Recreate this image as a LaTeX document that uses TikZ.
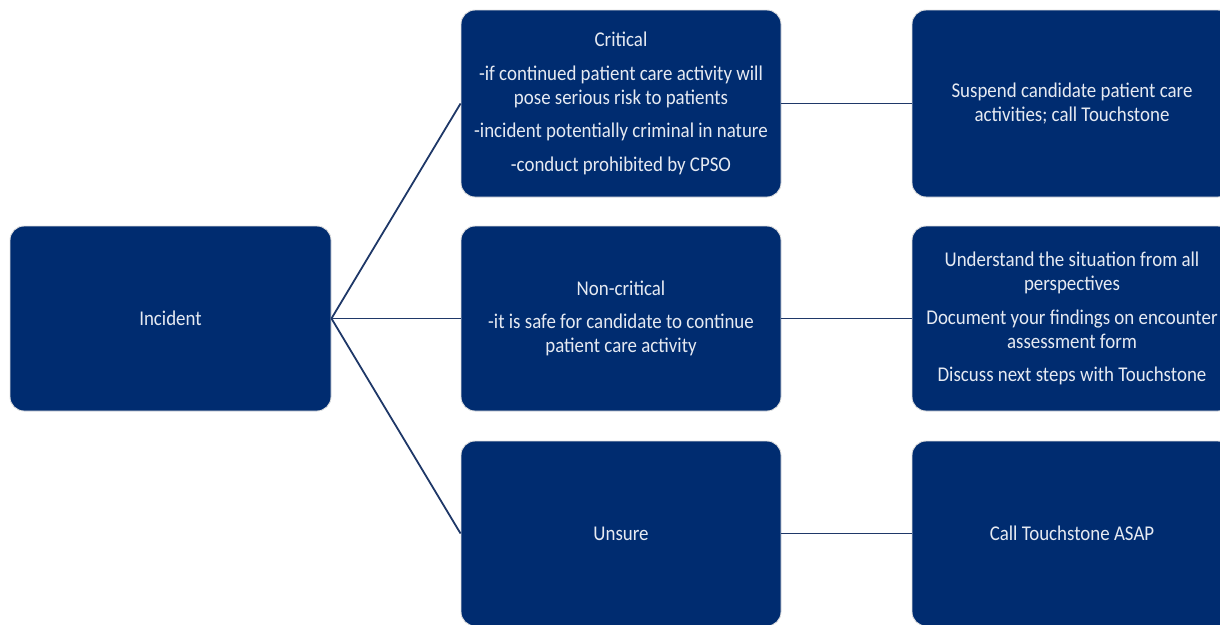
\documentclass[tikz,border=0pt]{standalone}
\usepackage{fontspec}
\setmainfont[FakeStretch=0.9]{Carlito}
\definecolor{boxblue}{HTML}{002C70}
\definecolor{linkblue}{HTML}{1F3868}
\definecolor{txt}{HTML}{E6EAF2}
\begin{document}
\begin{tikzpicture}[x=1pt,y=-1pt,
  card/.style={draw=black!12,line width=0.9pt,fill=boxblue,rounded corners=14pt,
    minimum width=320pt,minimum height=186pt,inner sep=0pt,text=txt,align=center,
    font=\fontsize{21}{24}\selectfont},
  link/.style={draw=linkblue,line width=1.8pt}]
\useasboundingbox (0,0) rectangle (1220,624);
\node[card,minimum width=321pt,minimum height=185pt] (inc) at (170.5,318.5) {Incident};
\node[card,minimum height=187pt] (crit) at (621,103.5) {Critical\\[9.5pt]-if continued patient care activity will\\pose serious risk to patients\\[9.5pt]-incident potentially criminal in nature\\[9.5pt]-conduct prohibited by CPSO};
\node[card,minimum height=185pt] (non) at (621,318.5) {Non-critical\\[9.5pt]-it is safe for candidate to continue\\patient care activity};
\node[card,minimum height=185pt] (uns) at (621,533.5) {Unsure};
\node[card,minimum height=187pt] (r1) at (1072,103.5) {Suspend candidate patient care\\activities; call Touchstone};
\node[card,minimum height=185pt] (r2) at (1072,318.5) {Understand the situation from all\\perspectives\\[9.5pt]Document your findings on encounter\\assessment form\\[9.5pt]Discuss next steps with Touchstone};
\node[card,minimum height=185pt] (r3) at (1072,533.5) {Call Touchstone ASAP};
\draw[link] (inc.east) -- (crit.west);
\draw[link] (inc.east) -- (non.west);
\draw[link] (inc.east) -- (uns.west);
\draw[link] (crit.east) -- (r1.west);
\draw[link] (non.east) -- (r2.west);
\draw[link] (uns.east) -- (r3.west);
\end{tikzpicture}
\end{document}
